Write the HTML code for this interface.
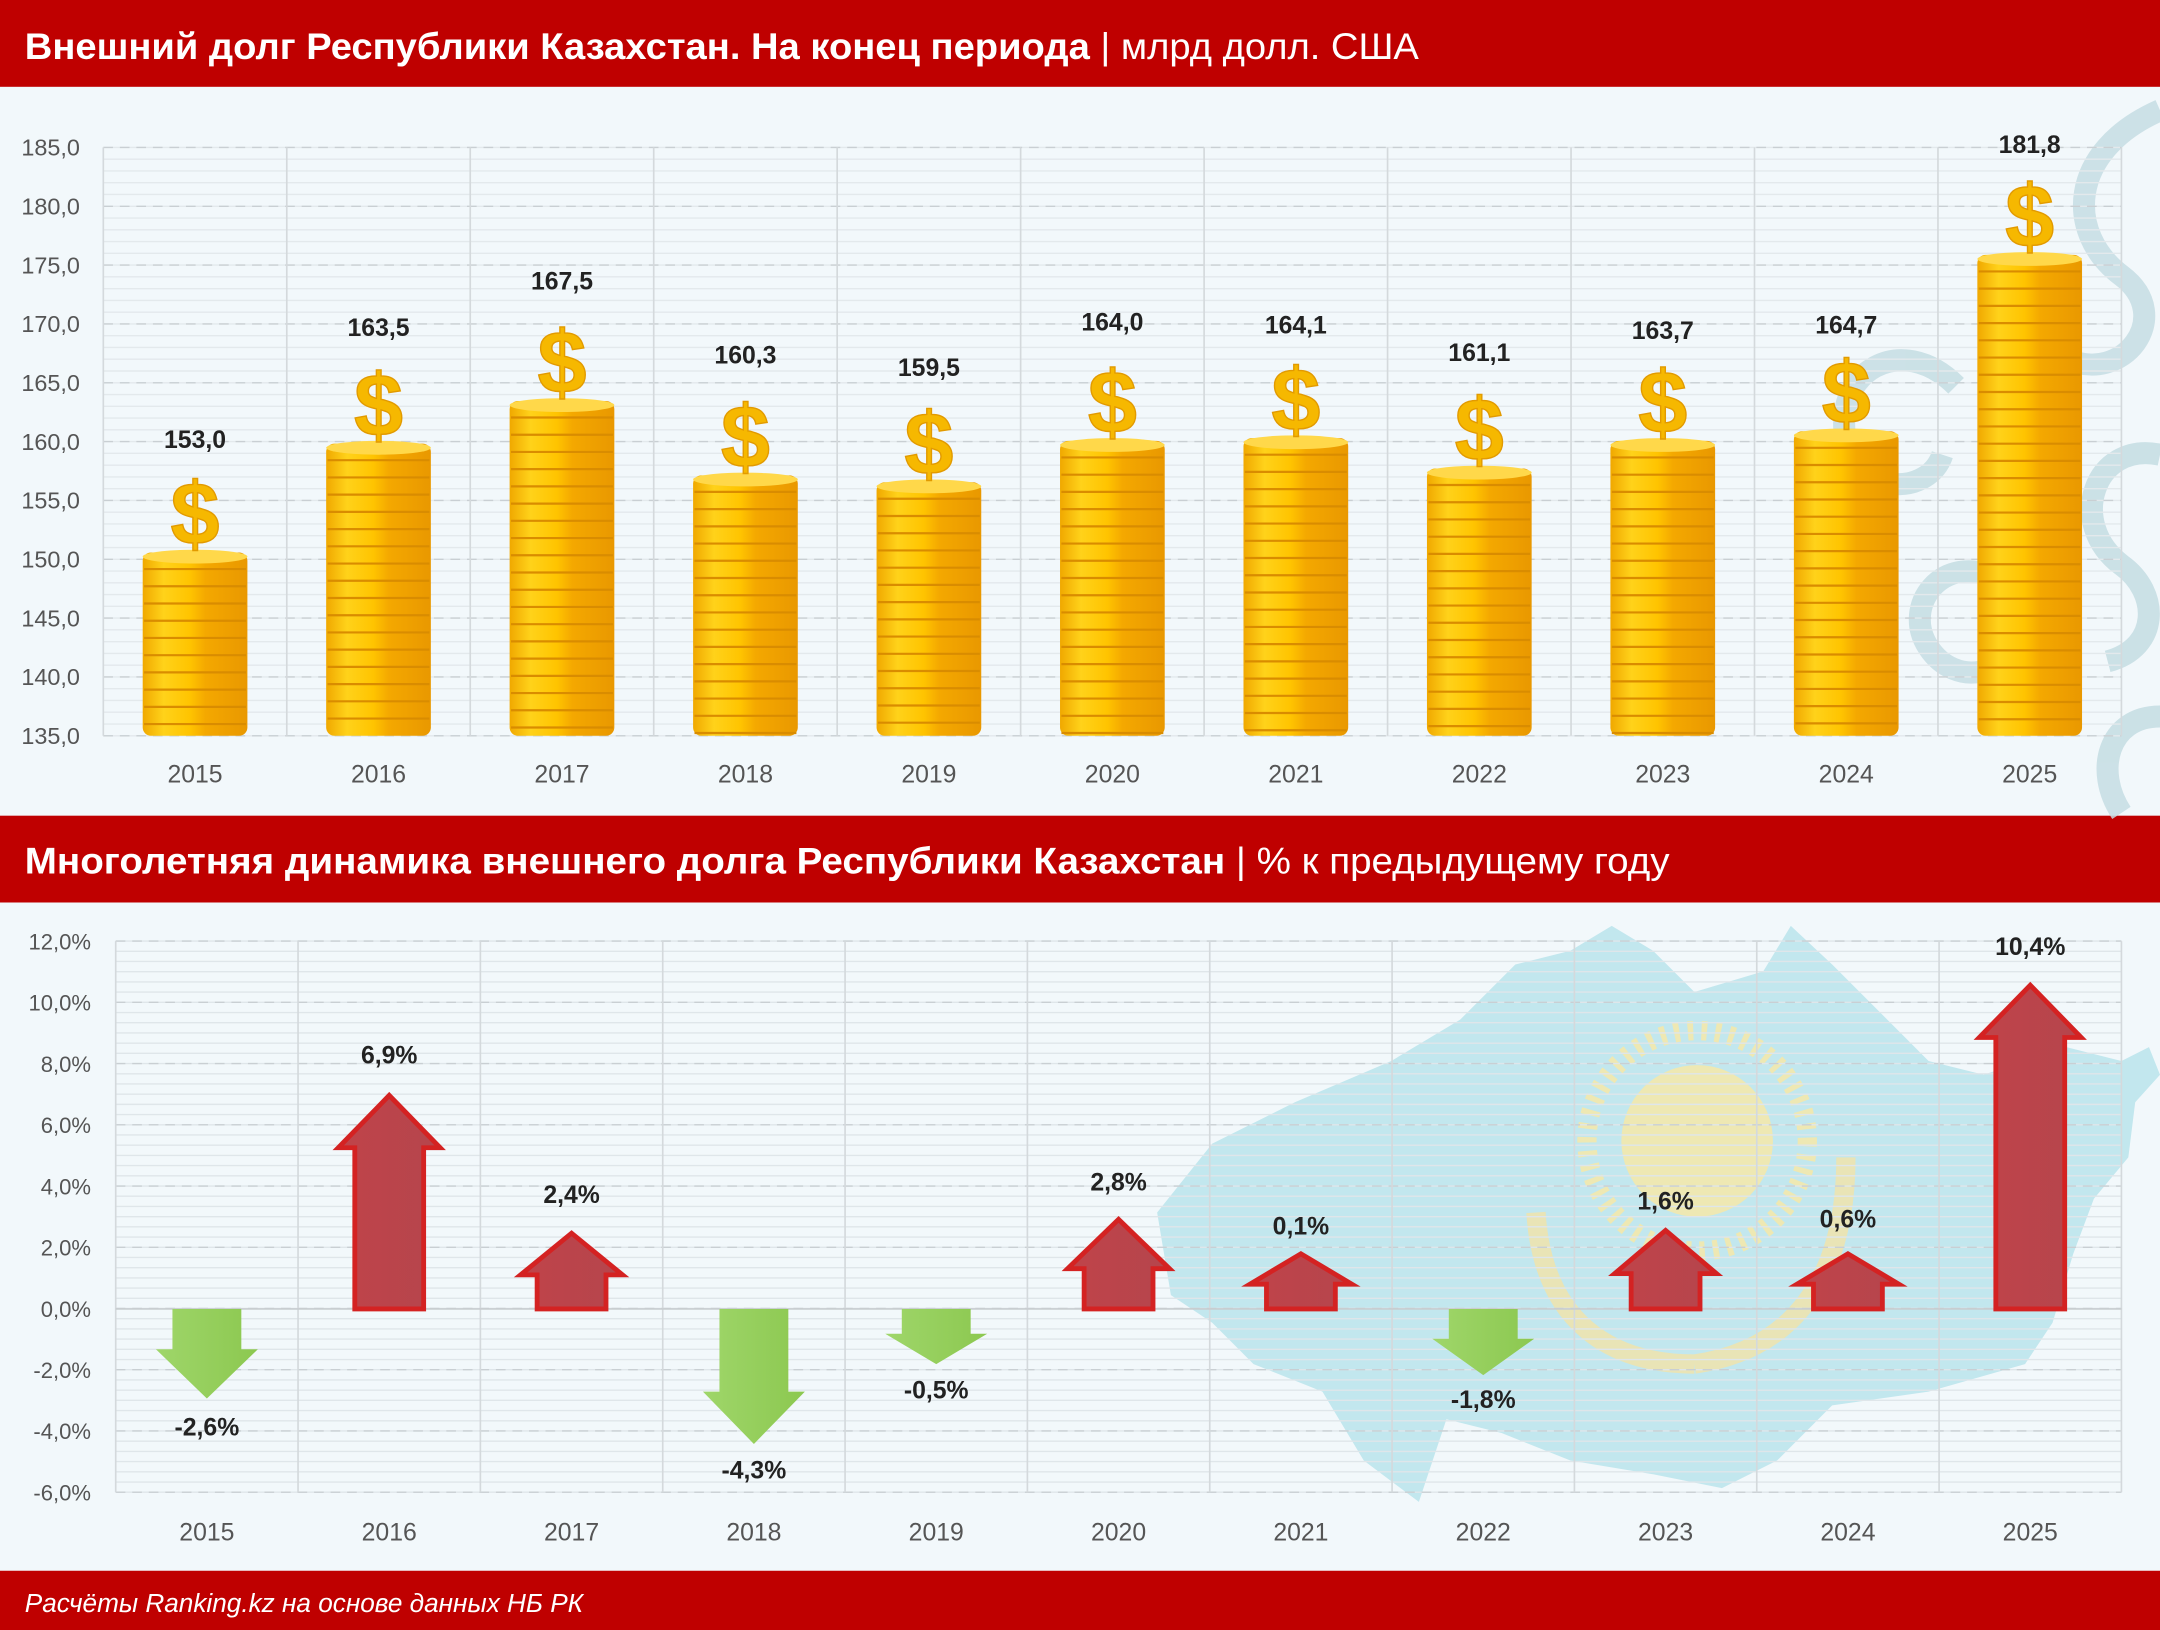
<!DOCTYPE html>
<html><head><meta charset="utf-8"><style>
html,body{margin:0;padding:0;background:#f2f8fb;}
svg{display:block;}
text{font-family:"Liberation Sans","DejaVu Sans",sans-serif;}
</style></head><body>
<svg id="s" xmlns="http://www.w3.org/2000/svg" width="2160" height="1630" viewBox="0 0 1568 1183" preserveAspectRatio="none">
<defs>
<linearGradient id="coin" x1="0" x2="1" y1="0" y2="0">
<stop offset="0" stop-color="#f0a800"/><stop offset="0.2" stop-color="#ffd21a"/><stop offset="0.45" stop-color="#ffc400"/><stop offset="0.6" stop-color="#f4a800"/><stop offset="1" stop-color="#e99800"/>
</linearGradient>
<linearGradient id="red" x1="0" x2="1"><stop offset="0" stop-color="#c0444a"/><stop offset="1" stop-color="#b5454c"/></linearGradient>
<linearGradient id="grn" x1="0" x2="1"><stop offset="0" stop-color="#9fd66a"/><stop offset="1" stop-color="#8cc850"/></linearGradient>
</defs>
<rect width="1568" height="1183" fill="#f2f8fb"/>
<rect x="0" y="0" width="1568" height="63" fill="#bf0000"/>
<text x="18" y="43" font-size="27" fill="#fff" textLength="1012" lengthAdjust="spacingAndGlyphs"><tspan font-weight="bold">Внешний долг Республики Казахстан. На конец периода</tspan> | млрд долл. США</text>
<rect x="0" y="592" width="1568" height="63" fill="#bf0000"/>
<text x="18" y="634" font-size="27" fill="#fff" textLength="1194" lengthAdjust="spacingAndGlyphs"><tspan font-weight="bold">Многолетняя динамика внешнего долга Республики Казахстан</tspan> | % к предыдущему году</text>
<rect x="0" y="1140" width="1568" height="43" fill="#bf0000"/>
<text x="18" y="1170" font-size="19" fill="#fff" font-style="italic">Расчёты Ranking.kz на основе данных НБ РК</text>
<g fill="none" stroke="#c5dde3" stroke-width="16" opacity="0.85">
<path d="M1568 80 C1500 110 1500 170 1540 200 C1580 230 1540 280 1500 260"/>
<path d="M1420 280 C1380 240 1330 270 1340 320 C1350 360 1400 360 1410 330"/>
<path d="M1568 330 C1520 320 1500 380 1540 410 C1568 430 1568 470 1530 480"/>
<path d="M1450 420 C1410 400 1380 440 1400 470 C1420 500 1460 490 1460 460"/>
<path d="M1568 520 C1530 520 1520 560 1540 590"/>
</g>
<path d="M840 880 L880 830 L940 800 L1010 770 L1060 740 L1100 700 L1140 690 L1170 672 L1200 690 L1230 720 L1280 705 L1300 672 L1330 700 L1370 740 L1400 770 L1440 780 L1500 760 L1540 770 L1560 760 L1568 780 L1550 800 L1545 840 L1520 870 L1505 910 L1490 960 L1470 990 L1400 1010 L1330 1020 L1290 1060 L1250 1080 L1200 1070 L1140 1060 L1090 1040 L1050 1030 L1030 1090 L990 1060 L960 1010 L910 990 L880 960 L850 940 Z" fill="#a8dde6" opacity="0.65"/>
<circle cx="1232" cy="828" r="55" fill="#f6e7a8" opacity="0.85"/>
<circle cx="1232" cy="828" r="80" fill="none" stroke="#f6e7a8" stroke-width="14" stroke-dasharray="4 6" opacity="0.85"/>
<path d="M1115 880 C1120 960 1170 990 1230 990 M1340 840 C1340 930 1300 980 1230 990" fill="none" stroke="#f3e3a8" stroke-width="14" opacity="0.8"/>
<g id="g"></g>
</svg>
<script>
var g=document.getElementById('g'),NS='http://www.w3.org/2000/svg';
function el(t,a,txt){var e=document.createElementNS(NS,t);for(var k in a)e.setAttribute(k,a[k]);if(txt!=null)e.textContent=txt;g.appendChild(e);return e;}
var yrs=['2015','2016','2017','2018','2019','2020','2021','2022','2023','2024','2025'];
var L=75,R=1540,T=107,B=534;
for(var i=0;i<=50;i++){var y=T+(B-T)*i/50;el('line',{x1:L,x2:R,y1:y,y2:y,stroke:'#e3e9ec','stroke-width':1});}
for(var i=0;i<=10;i++){var y=T+(B-T)*i/10;el('line',{x1:L,x2:R,y1:y,y2:y,stroke:'#c9cfd3','stroke-width':1,'stroke-dasharray':'7 5'});
 el('text',{x:58,y:y+6,'font-size':17,fill:'#555','text-anchor':'end'},(185-5*i).toFixed(1).replace('.',','));}
var cw=(R-L)/11;
for(var i=0;i<=11;i++){var x=L+cw*i;el('line',{x1:x,x2:x,y1:T,y2:B,stroke:'#d4d9dc','stroke-width':1.2});}
var tops=[401,322,291,345,350,320,318,340,320,313,185];
var labs=['153,0','163,5','167,5','160,3','159,5','164,0','164,1','161,1','163,7','164,7','181,8'];
var ly=[319,238,204,258,267,234,236,256,240,236,105];
for(var i=0;i<11;i++){var cx=L+cw*(i+0.5);var x0=cx-38;
 el('rect',{x:x0,y:tops[i],width:76,height:B-tops[i],fill:'url(#coin)',rx:6});
 for(var y=tops[i]+12;y<B;y+=12.5){el('line',{x1:x0+1,x2:x0+75,y1:y,y2:y,stroke:'#d98c00','stroke-width':1.6});}
 el('ellipse',{cx:cx,cy:tops[i]+3,rx:38,ry:5,fill:'#ffd84a'});
 el('text',{x:cx,y:tops[i]-6,'font-size':64,'font-weight':'bold',fill:'#f6b800',stroke:'#e29a00','stroke-width':1,'text-anchor':'middle',"font-family":"Liberation Serif"},'$');
 el('text',{x:cx,y:ly[i]+6,'font-size':18,'font-weight':'bold',fill:'#222','text-anchor':'middle'},labs[i]);
 el('text',{x:cx,y:568,'font-size':18,fill:'#555','text-anchor':'middle'},yrs[i]);}
var L2=84,T2=683,B2=1083;
for(var i=0;i<=54;i++){var y=T2+(B2-T2)*i/54;el('line',{x1:L2,x2:R,y1:y,y2:y,stroke:'#dfe6ea','stroke-width':1});}
for(var i=0;i<=9;i++){var y=T2+(B2-T2)*i/9;el('line',{x1:L2,x2:R,y1:y,y2:y,stroke:'#c9cfd3','stroke-width':1,'stroke-dasharray':'7 5'});
 el('text',{x:66,y:y+6,'font-size':16,fill:'#555','text-anchor':'end'},(12-2*i).toFixed(1).replace('.',',')+'%');}
var cw2=(R-L2)/11;
for(var i=0;i<=11;i++){var x=L2+cw2*i;el('line',{x1:x,x2:x,y1:T2,y2:B2,stroke:'#d4d9dc','stroke-width':1.2});}
var z=950;el('line',{x1:L2,x2:R,y1:z,y2:z,stroke:'#c8cdd0','stroke-width':1.2});
var tips=[1015,795,895,1048,990,885,910,998,893,910,715];
var pl=['-2,6%','6,9%','2,4%','-4,3%','-0,5%','2,8%','0,1%','-1,8%','1,6%','0,6%','10,4%'];
var py=[1036,766,867,1067,1009,858,890,1016,872,885,687];
for(var i=0;i<11;i++){var cx=L2+cw2*(i+0.5);var tp=tips[i];var up=tp<z;var h=Math.abs(z-tp);var hh=Math.min(38,h*0.55);
 var sw=25,hw=37,d,hb=up?tp+hh:tp-hh;
 d='M'+(cx-sw)+' '+z+' L'+(cx-sw)+' '+hb+' L'+(cx-hw)+' '+hb+' L'+cx+' '+tp+' L'+(cx+hw)+' '+hb+' L'+(cx+sw)+' '+hb+' L'+(cx+sw)+' '+z+' Z';
 if(up) el('path',{d:d,fill:'url(#red)',stroke:'#d42222','stroke-width':3.5});
 else el('path',{d:d,fill:'url(#grn)'});
 el('text',{x:cx,y:py[i]+6,'font-size':18,'font-weight':'bold',fill:'#222','text-anchor':'middle'},pl[i]);
 el('text',{x:cx,y:1118,'font-size':18,fill:'#555','text-anchor':'middle'},yrs[i]);}
</script>
</body></html>
